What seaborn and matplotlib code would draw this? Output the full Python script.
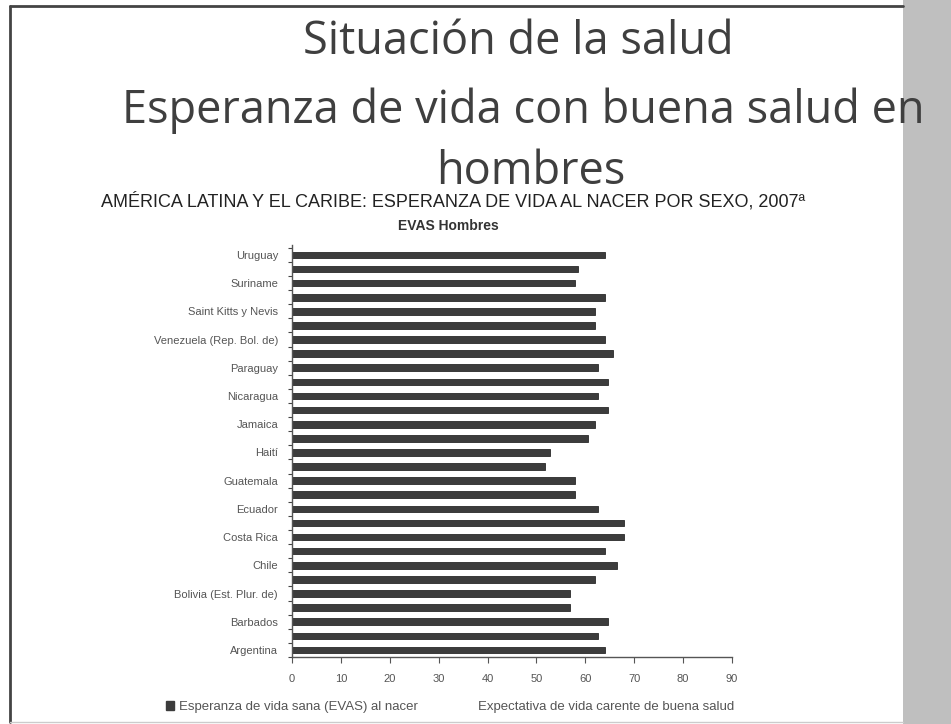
import matplotlib
matplotlib.use("Agg")
import matplotlib.pyplot as plt
import matplotlib.patches as mpatches
import seaborn as sns
import pandas as pd
import numpy as np

countries = ["Uruguay", "Trinidad y Tabago", "Suriname", "Santa Lucía",
             "Saint Kitts y Nevis", "República Dominicana", "Venezuela (Rep. Bol. de)",
             "Perú", "Paraguay", "Panamá", "Nicaragua", "México", "Jamaica",
             "Honduras", "Haití", "Guyana", "Guatemala", "El Salvador", "Ecuador",
             "Cuba", "Costa Rica", "Colombia", "Chile", "Brasil",
             "Bolivia (Est. Plur. de)", "Belice", "Barbados", "Bahamas", "Argentina"]
evas = [64.0, 58.6, 57.8, 64.0, 62.0, 62.0, 64.0, 65.6, 62.6, 64.6, 62.6, 64.6,
        62.0, 60.5, 52.7, 51.7, 57.8, 57.8, 62.6, 68.0, 68.0, 64.0, 66.5, 62.0,
        56.9, 56.9, 64.6, 62.6, 64.0]
shown_labels = ["Uruguay", "Suriname", "Saint Kitts y Nevis", "Venezuela (Rep. Bol. de)",
                "Paraguay", "Nicaragua", "Jamaica", "Haití", "Guatemala", "Ecuador",
                "Costa Rica", "Chile", "Bolivia (Est. Plur. de)", "Barbados", "Argentina"]
xticks = [0, 10, 20, 30, 40, 50, 60, 70, 80, 90]

slide_title = ["Situación de la salud", "Esperanza de vida con buena salud en", "hombres"]
chart_title = "AMÉRICA LATINA Y EL CARIBE: ESPERANZA DE VIDA AL NACER POR SEXO, 2007ª"
chart_sub = "EVAS Hombres"
legend_labels = ["Esperanza de vida sana (EVAS) al nacer",
                 "Expectativa de vida carente de buena salud"]

df = pd.DataFrame({"pais": countries, "evas": evas})

sns.set_theme(style="white")
plt.rcParams["font.family"] = ["Liberation Sans", "DejaVu Sans"]

W, H = 951, 724
fig = plt.figure(figsize=(W / 100, H / 100), dpi=100)
fig.patch.set_facecolor("white")

# right gray strip
fig.add_artist(mpatches.Rectangle((903 / W, 0), 1 - 903 / W, 1, transform=fig.transFigure,
                                  facecolor="#bfbfbf", edgecolor="none", zorder=0))
# slide frame
fig.add_artist(plt.Line2D([10 / W, 10 / W], [1 - 6 / H, 1 - 722 / H], transform=fig.transFigure,
                          color="#444444", lw=2))
fig.add_artist(plt.Line2D([10 / W, 903 / W], [1 - 6 / H, 1 - 6 / H], transform=fig.transFigure,
                          color="#444444", lw=2))
fig.add_artist(plt.Line2D([10 / W, 903 / W], [1 - 722 / H, 1 - 722 / H], transform=fig.transFigure,
                          color="#cccccc", lw=1))

ax = fig.add_axes([292 / W, 1 - 657 / H, (732 - 292) / W, (657 - 245) / H])
sns.barplot(data=df, x="evas", y="pais", orient="h", color="#3c3c3c",
            edgecolor="#2a2a2a", linewidth=0.6, width=0.47, saturation=1, ax=ax)

ax.set_xlim(0, 90)
ax.set_ylim(28.45, -0.7)
ax.set_xticks(xticks)
ax.set_xticklabels([str(v) for v in xticks])
ax.set_yticks(range(len(countries)))
ax.set_yticklabels([c if c in shown_labels else "" for c in countries])
ax.set_yticks(np.arange(-0.5, len(countries) - 0.4, 1), minor=True)
ax.tick_params(axis="y", which="major", length=0, labelsize=8, labelcolor="#555555", pad=10)
ax.tick_params(axis="y", which="minor", left=True, length=3, width=0.8, color="#444444")
ax.tick_params(axis="x", which="major", bottom=True, length=4, width=0.8, color="#555555",
               labelsize=8, labelcolor="#555555", pad=8)
ax.set_xlabel("")
ax.set_ylabel("")
for s in ["top", "right"]:
    ax.spines[s].set_visible(False)
for s in ["left", "bottom"]:
    ax.spines[s].set_color("#555555")
    ax.spines[s].set_linewidth(1.0)

# slide titles
tcol = "#3f3f3f"
tfam = ["Open Sans", "DejaVu Sans"]
fig.text(518 / W, 1 - 42 / H, slide_title[0], ha="center", va="center", fontsize=32.5,
         color=tcol, family=tfam, zorder=5)
fig.text(523 / W, 1 - 111 / H, slide_title[1], ha="center", va="center", fontsize=32.5,
         color=tcol, family=tfam, zorder=5)
fig.text(531 / W, 1 - 172 / H, slide_title[2], ha="center", va="center", fontsize=32.5,
         color=tcol, family=tfam, zorder=5)

fig.text(453 / W, 1 - 201 / H, chart_title, ha="center", va="center", fontsize=13,
         color="#222222")
fig.text(448 / W, 1 - 226 / H, chart_sub, ha="center", va="center", fontsize=10,
         color="#333333", fontweight="bold")

handles = [mpatches.Patch(facecolor="#3c3c3c", edgecolor="#3c3c3c"),
           mpatches.Patch(facecolor="white", edgecolor="white")]
fig.legend(handles, legend_labels, loc="center", bbox_to_anchor=(450 / W, 1 - 707 / H),
           ncol=2, frameon=False, fontsize=9.5, labelcolor="#555555", handlelength=0.6,
           handleheight=0.6, handletextpad=0.4, columnspacing=3.5)

fig.savefig("out.png", dpi=100)
